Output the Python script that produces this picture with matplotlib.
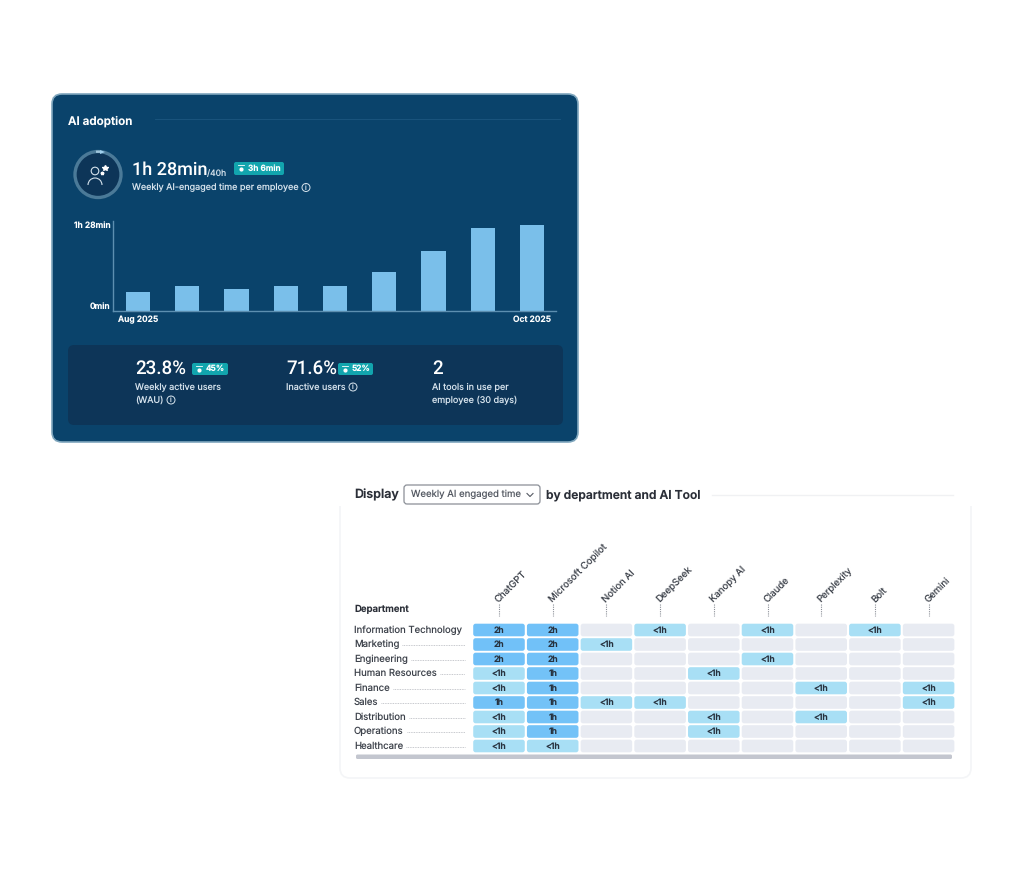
import matplotlib
matplotlib.use("Agg")
import matplotlib.pyplot as plt
from matplotlib.patches import FancyBboxPatch, Circle, Rectangle, Wedge, Polygon, Arc

plt.rcParams['font.family'] = ['Inter', 'DejaVu Sans']
plt.rcParams['text.hinting'] = 'no_hinting'

W, H = 1024, 871

# bar chart values, minutes per week
weeks = list(range(9))
minutes = [19, 26, 23, 26, 26, 40, 61, 85, 88]
week_labels = ['Aug 2025', 'Oct 2025']
minute_ticks = [0, 88]
minute_labels = ['0min', '1h 28min']

# heatmap
tools = ['ChatGPT', 'Microsoft Copilot', 'Notion AI', 'DeepSeek', 'Kanopy AI',
         'Claude', 'Perplexity', 'Bolt', 'Gemini']
departments = ['Information Technology', 'Marketing', 'Engineering', 'Human Resources',
               'Finance', 'Sales', 'Distribution', 'Operations', 'Healthcare']
engaged = [
    ['2h', '2h', '', '<1h', '', '<1h', '', '<1h', ''],
    ['2h', '2h', '<1h', '', '', '', '', '', ''],
    ['2h', '2h', '', '', '', '<1h', '', '', ''],
    ['<1h', '1h', '', '', '<1h', '', '', '', ''],
    ['<1h', '1h', '', '', '', '', '<1h', '', '<1h'],
    ['1h', '1h', '<1h', '<1h', '', '', '', '', '<1h'],
    ['<1h', '1h', '', '', '<1h', '', '<1h', '', ''],
    ['<1h', '1h', '', '', '<1h', '', '', '', ''],
    ['<1h', '<1h', '', '', '', '', '', '', ''],
]
cell_colors = {'2h': '#71c1f8', '1h': '#73c2f7', '<1h': '#a8dff5', '': '#e8ebf2'}

PANEL = '#0a436b'
INNER = '#0d3558'
TEAL = '#12a5ae'
SOFT = '#d5e2ec'
DARK = '#2b2f38'


def px_axes(fig, left, top, right, bottom):
    return fig.add_axes([left / W, 1 - bottom / H, (right - left) / W, (bottom - top) / H])


def rbox(ax, x0, y0, x1, y1, r, **kw):
    p = FancyBboxPatch((x0, y0), x1 - x0, y1 - y0,
                       boxstyle=f'round,pad=0,rounding_size={r}', **kw)
    ax.add_patch(p)
    return p


def info(ax, x, y, color=SOFT):
    ax.add_patch(Circle((x, y), 4, fill=False, ec=color, lw=0.7))
    ax.text(x, y + 0.2, 'i', color=color, fontsize=5, ha='center', va='center')


def badge(ax, x0, x1, y0, y1, label):
    rbox(ax, x0, y0, x1, y1, 2, fc=TEAL, ec='none')
    ax.plot([x0 + 4, x0 + 10], [y0 + 3.5, y0 + 3.5], color='white', lw=0.6)
    ax.plot([x0 + 7], [(y0 + y1) / 2 + 1], marker='o', ms=2, color='white')
    ax.text(x0 + 14, (y0 + y1) / 2, label, color='white', fontsize=6,
            fontweight='semibold', ha='left', va='center')


fig = plt.figure(figsize=(W / 100, H / 100), dpi=100, facecolor='white')

bg = fig.add_axes([0, 0, 1, 1])
bg.set_xlim(0, W)
bg.set_ylim(H, 0)
bg.axis('off')

# ---- AI adoption card
rbox(bg, 52, 94, 578, 442, 10, fc=PANEL, ec='#7fa6bd', lw=1.2)
bg.text(68, 121, 'AI adoption', color='white', fontsize=8.4, fontweight='semibold', va='center')
bg.plot([155, 560], [119, 119], color='#1c5780', lw=0.6)

# icon
bg.add_patch(Circle((98, 174.5), 23, fc=INNER, ec='#4b7a98', lw=2.4))
bg.add_patch(Wedge((98, 174.5), 24, 265, 275, width=2.4, fc='#9fc5dc', ec='none'))
bg.add_patch(Polygon([[100, 150], [105, 152], [100, 154]], fc='#9fd0ee', ec='none'))
bg.add_patch(Circle((95, 171), 3.8, fill=False, ec=SOFT, lw=0.8))
bg.add_patch(Arc((95, 185), 14, 14, theta1=180, theta2=360, ec=SOFT, lw=0.8))
bg.plot([105], [168], ls='none', marker='*', ms=4, color='white')
bg.plot([102], [173.5], ls='none', marker='*', ms=2.5, color='white')

bg.text(132, 169.5, '1h 28min', family=['Roboto', 'DejaVu Sans'], color='white', fontsize=13,
        fontweight='medium', va='center')
bg.text(207, 173.5, '/40h', color=SOFT, fontsize=6.2, va='center')
badge(bg, 234, 284, 162, 175, '3h 6min')
bg.text(132, 187.5, 'Weekly AI-engaged time per employee', color=SOFT, fontsize=6.5, va='center')
info(bg, 306, 187.5)

# summary strip
rbox(bg, 68, 345, 563, 425, 6, fc=INNER, ec='none')
for x, val in [(135, '23.8%'), (286, '71.6%'), (432, '2')]:
    bg.text(x, 369, val, family=['Roboto', 'DejaVu Sans'], color='white', fontsize=13.5,
            fontweight='medium', va='center')
badge(bg, 192, 228, 363, 375, '45%')
bg.text(135, 387, 'Weekly active users', color=SOFT, fontsize=6.5, va='center')
bg.text(135, 400, '(WAU)', color=SOFT, fontsize=6.5, va='center')
info(bg, 171, 400)
badge(bg, 338, 373, 363, 375, '52%')
bg.text(286, 387, 'Inactive users', color=SOFT, fontsize=6.5, va='center')
info(bg, 353, 387)
bg.text(432, 387, 'AI tools in use per', color=SOFT, fontsize=6.5, va='center')
bg.text(432, 400, 'employee (30 days)', color=SOFT, fontsize=6.5, va='center')

# ---- department card
rbox(bg, 340, 488, 971, 778, 10, fc='white', ec='#f4f5f7', lw=1.2)
bg.add_patch(Rectangle((335, 476), 640, 30, fc='white', ec='none'))
bg.text(354, 495, 'Display', color=DARK, fontsize=9, fontweight='semibold', va='center')
rbox(bg, 404, 485, 540, 504, 3, fc='white', ec='#8b8f97', lw=0.9)
bg.text(411, 494.5, 'Weekly AI engaged time', color='#555a63', fontsize=6.9, va='center')
bg.plot([527, 530, 533], [493.5, 496.5, 493.5], color='#555a63', lw=0.8)
bg.text(546, 495, 'by department and AI Tool', color=DARK, fontsize=8.7, fontweight='semibold', va='center')
bg.plot([712, 953], [495, 495], color='#f0f1f3', lw=1)
bg.text(354, 609, 'Department', color=DARK, fontsize=6.9, fontweight='semibold', va='center')

# ---- bars
bars = px_axes(fig, 113, 221, 556, 311)
bars.patch.set_alpha(0)
bars.bar(weeks, minutes, width=0.49, color='#7abfea')
bars.set_xlim(-0.508, 8.487)
bars.set_ylim(0, 92.1)
bars.set_xticks([weeks[0], weeks[-1]], week_labels)
bars.set_yticks(minute_ticks, minute_labels)
bars.tick_params(length=0, colors='white', labelsize=6.1)
for t in bars.get_xticklabels() + bars.get_yticklabels():
    t.set_fontweight('semibold')
bars.get_yticklabels()[0].set_verticalalignment('bottom')
bars.tick_params(axis='x', pad=3)
bars.tick_params(axis='y', pad=2)
bars.spines[['top', 'right']].set_visible(False)
bars.spines[['left', 'bottom']].set_color('#5d8fb0')
bars.spines[['left', 'bottom']].set_linewidth(1)

# ---- heatmap
heat = px_axes(fig, 472.15, 622.75, 955.45, 753.25)
heat.set_xlim(-0.5, 8.5)
heat.set_ylim(8.5, -0.5)
heat.axis('off')
for r, row in enumerate(engaged):
    for c, val in enumerate(row):
        heat.add_patch(FancyBboxPatch((c - 0.48, r - 0.435), 0.96, 0.87,
                                      boxstyle='round,pad=0,rounding_size=0.045',
                                      mutation_aspect=3.7, fc=cell_colors[val], ec='none'))
        if val:
            heat.text(c, r + 0.02, val, color='#27323f', fontsize=6.2,
                      fontweight='semibold', ha='center', va='center')

# column headers and their dotted stems
for c, tool in enumerate(tools):
    cx = 499 + 53.7 * c
    bg.plot([cx, cx], [604, 616], color='#8a8e96', lw=0.8, ls=(0, (1, 1)))
    bg.text(cx - 2, 601, tool, color='#3d424b', fontsize=6.9, rotation=45,
            rotation_mode='anchor', ha='left', va='center')

# row labels with dotted leaders
renderer = fig.canvas.get_renderer()
for r, dept in enumerate(departments):
    cy = 630 + 14.5 * r
    t = bg.text(354, cy, dept, color='#3d424b', fontsize=6.9, va='center')
    if r > 0:
        end = t.get_window_extent(renderer).x1
        bg.plot([end + 3, 465], [cy + 0.5, cy + 0.5], color='#b4b7bd', lw=0.6, ls=(0, (1, 1)))

# scrollbar
rbox(bg, 356, 754.5, 952, 759, 1.5, fc='#c3c6cf', ec='none')

fig.savefig('out.png', dpi=100, facecolor='white')
